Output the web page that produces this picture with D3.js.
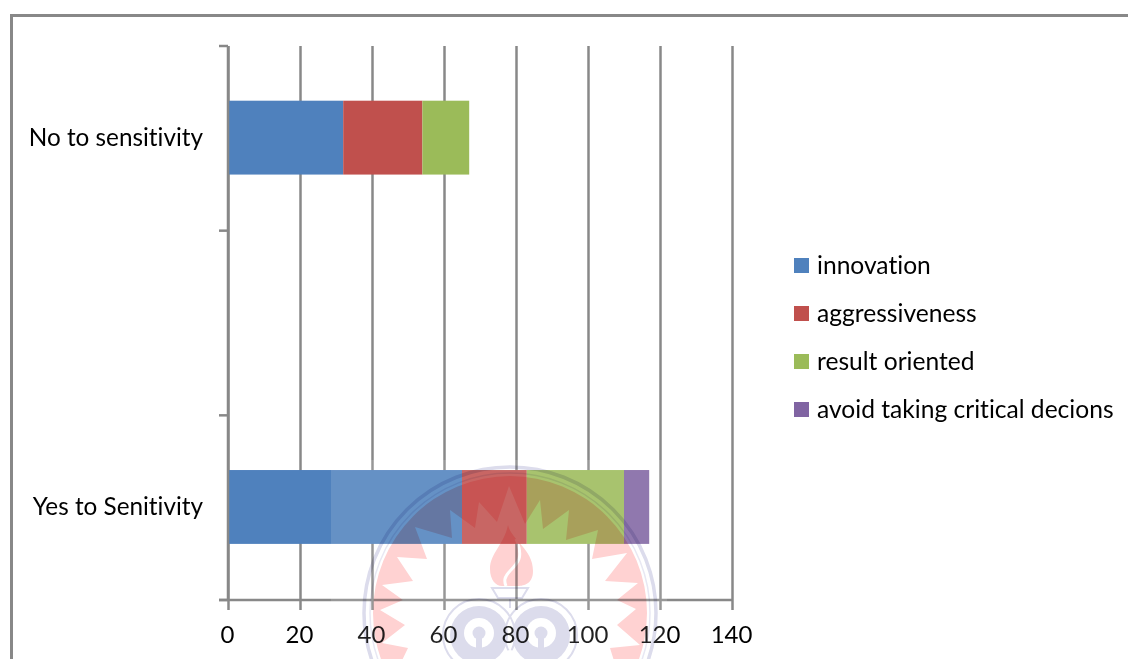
<!DOCTYPE html>
<html>
<head>
<meta charset="utf-8">
<script src="https://cdnjs.cloudflare.com/ajax/libs/d3/7.8.5/d3.min.js"></script>
<style>
  html, body { margin: 0; padding: 0; background: #fff; overflow: hidden; }
  svg { display: block; }
  text { font-family: Lato, "Open Sans", sans-serif; fill: #000; font-variant-ligatures: none; }
</style>
</head>
<body>
<svg id="chart" width="1128" height="659"></svg>
<script>
// Categories, top to bottom; the middle band is empty.
const categories = ["No to sensitivity", "", "Yes to Senitivity"];
const seriesNames = ["innovation", "aggressiveness", "result oriented", "avoid taking critical decions"];
const innovation = [32, 0, 65];
const aggressiveness = [22, 0, 18];
const resultOriented = [13, 0, 27];
const avoidDecisions = [0, 0, 7];
const xTicks = [0, 20, 40, 60, 80, 100, 120, 140];
const colors = ["#4f81bd", "#c0504d", "#9bbb59", "#8064a2"];

// Spiked inner edge of the red band of the seal, as offsets from its centre.
const sealStar = [
  [-102, 35], [-128, 30], [-105, 12], [-130, -3], [-107, -13], [-128, -28], [-97, -32],
  [-113, -56], [-83, -54], [-95, -86], [-58, -75], [-60, -103], [-35, -85], [-31, -111],
  [-13, -91], [-1, -127], [15, -89], [30, -113], [33, -84], [59, -103], [56, -73],
  [88, -83], [82, -54], [117, -60], [95, -32], [128, -30], [107, -13], [126, -4],
  [107, 12], [130, 32], [100, 35], [110, 67], [0, 107], [-115, 62]
];

const svg = d3.select("#chart");
const rows = [innovation, aggressiveness, resultOriented, avoidDecisions];
const table = categories.map((category, i) => {
  const row = { category };
  seriesNames.forEach((name, s) => { row[name] = rows[s][i]; });
  return row;
});
const stacked = d3.stack().keys(seriesNames)(table);

const x = d3.scaleLinear().domain([0, 140]).range([228, 732]);
const y = d3.scaleBand().domain(d3.range(categories.length))
  .range([46, 600]).paddingInner(0.6).paddingOuter(0.3);
const color = d3.scaleOrdinal().domain(seriesNames).range(colors);

const axisStroke = "#888888";
const fontSize = 24;

// Outer frame runs off the right and bottom of the page.
svg.append("path")
  .attr("d", "M11.5,659V15.5H1128")
  .attr("fill", "none").attr("stroke", axisStroke).attr("stroke-width", 3);

// Value axis with full-height gridlines.
const xAxis = svg.append("g").attr("transform", "translate(0,600)")
  .call(d3.axisBottom(x).tickValues(xTicks).tickSize(10).tickPadding(16));
xAxis.select(".domain").attr("d", `M219,0H${x(140)}`)
  .attr("stroke", axisStroke).attr("stroke-width", 2.5);
xAxis.selectAll(".tick line").attr("y2", 10).attr("y1", y.range()[0] - 600)
  .attr("stroke", axisStroke).attr("stroke-width", 2.5);
xAxis.selectAll(".tick text")
  .attr("font-size", fontSize).attr("dx", -1).style("font-family", "Lato");

// Stacked bars.
const barNudge = -0.7;
svg.append("g").selectAll("g")
  .data(stacked)
  .join("g")
  .attr("fill", d => color(d.key))
  .selectAll("rect")
  .data(d => d.map((v, i) => ({ v, i })).filter(e => e.v[1] > e.v[0]))
  .join("rect")
  .attr("x", e => x(e.v[0]))
  .attr("width", e => x(e.v[1]) - x(e.v[0]))
  .attr("y", e => y(e.i) + barNudge)
  .attr("height", y.bandwidth());

// Category axis: labels centred on bands, ticks on band edges, spine above the bars.
const yAxis = svg.append("g").attr("transform", `translate(${x(0)},0)`)
  .call(d3.axisLeft(y).tickFormat(i => categories[i]).tickSize(0).tickPadding(25));
yAxis.select(".domain").remove();
yAxis.selectAll(".tick text")
  .attr("font-size", fontSize + 0.3).style("font-family", "Lato");
svg.append("line")
  .attr("x1", x(0)).attr("x2", x(0))
  .attr("y1", y.range()[0]).attr("y2", y.range()[1])
  .attr("stroke", axisStroke).attr("stroke-width", 2.5);
const bandStep = y.step();
svg.append("g").selectAll("line")
  .data(d3.range(categories.length + 1))
  .join("line")
  .attr("x1", x(0) - 9).attr("x2", x(0))
  .attr("y1", i => y.range()[0] + i * bandStep)
  .attr("y2", i => y.range()[0] + i * bandStep)
  .attr("stroke", axisStroke).attr("stroke-width", 2.5);

// Legend.
const legend = svg.append("g").selectAll("g")
  .data(seriesNames)
  .join("g")
  .attr("transform", (d, i) => `translate(794,${265.5 + i * 48})`);
legend.append("rect")
  .attr("y", -7.5).attr("width", 15).attr("height", 15)
  .attr("fill", d => color(d));
legend.append("text")
  .attr("x", 23).attr("dy", "0.33em")
  .attr("font-size", fontSize + 0.6)
  .text(d => d);

// Institute seal laid across the lower part of the page.
svg.append("rect")
  .attr("x", 331).attr("y", 460).attr("width", 336).attr("height", 199)
  .attr("fill", "#fff").attr("opacity", 0.13);

const seal = svg.append("g")
  .attr("transform", "translate(510,613)")
  .style("mix-blend-mode", "multiply");
const lavender = "#dcdcec";
const pink = "#ffd2d2";

// Red disc with the star knocked out of it.
const discRadius = 137;
const discPath = `M${-discRadius},0A${discRadius},${discRadius} 0 1 1 ${discRadius},0A${discRadius},${discRadius} 0 1 1 ${-discRadius},0Z`;
seal.append("path")
  .attr("d", discPath + d3.line()(sealStar) + "Z")
  .attr("fill", pink).attr("fill-rule", "evenodd");

// Double ring round the edge.
seal.append("circle").attr("r", 146).attr("fill", "none")
  .attr("stroke", lavender).attr("stroke-width", 3.5);
seal.append("circle").attr("r", 140).attr("fill", "none")
  .attr("stroke", "#e8e8f3").attr("stroke-width", 1.5);

// Flame with its white swirl.
seal.append("path")
  .attr("d", "M-2,-88C2,-72 23,-64 23,-42C23,-28 12,-27 7,-27L-8,-27C-14,-27 -20,-33 -20,-44C-20,-60 -6,-68 -2,-88Z")
  .attr("fill", pink);
seal.append("path")
  .attr("d", "M6,-74C14,-56 8,-50 0,-42C-6,-36 -6,-32 -4,-27")
  .attr("fill", "none").attr("stroke", "#fff").attr("stroke-width", 3);

// Lamp cup.
seal.append("path")
  .attr("d", "M-18,-25H18L12,-15H-12Z")
  .attr("fill", "none").attr("stroke", lavender).attr("stroke-width", 2);
seal.append("line")
  .attr("x1", 0).attr("x2", 0).attr("y1", -15).attr("y2", -5)
  .attr("stroke", lavender).attr("stroke-width", 2);

// Twin lobes with keyhole openings.
[-31, 31].forEach(cx => {
  seal.append("circle").attr("cx", cx).attr("cy", 22).attr("r", 36)
    .attr("fill", "none").attr("stroke", lavender).attr("stroke-width", 2);
  seal.append("circle").attr("cx", cx).attr("cy", 22).attr("r", 29).attr("fill", lavender);
  seal.append("circle").attr("cx", cx).attr("cy", 20).attr("r", 15).attr("fill", "#fff");
  seal.append("circle").attr("cx", cx).attr("cy", 20).attr("r", 6.5).attr("fill", lavender);
  seal.append("rect").attr("x", cx - 3).attr("y", 20).attr("width", 6).attr("height", 18).attr("fill", lavender);
});
seal.append("circle").attr("cx", 0).attr("cy", 46).attr("r", 9).attr("fill", "#fff");
</script>
</body>
</html>
